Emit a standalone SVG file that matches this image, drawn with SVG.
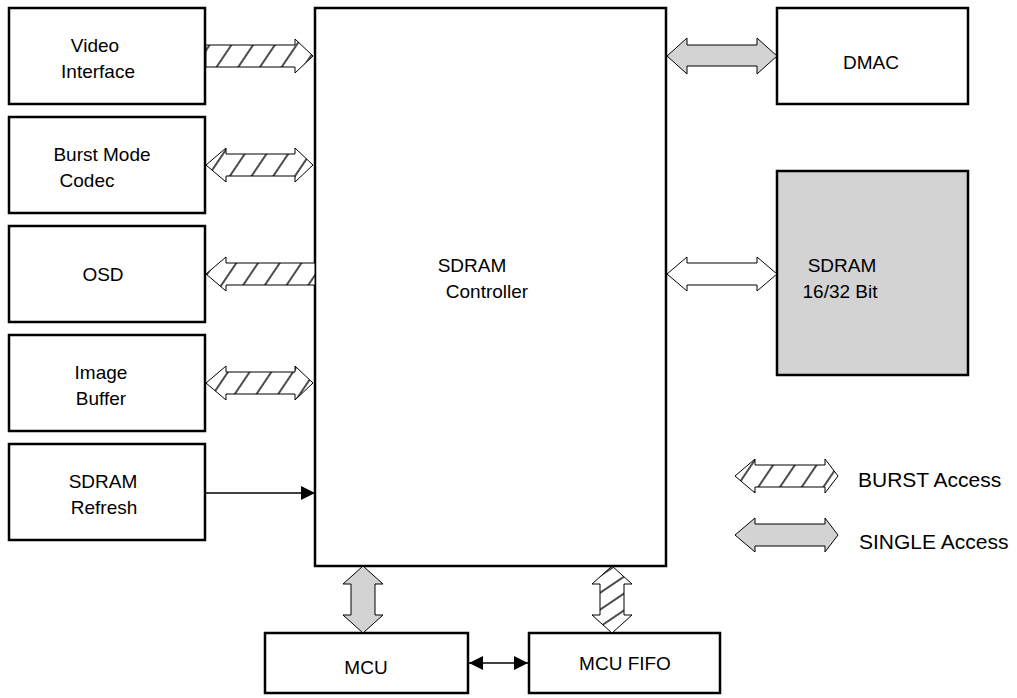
<svg xmlns="http://www.w3.org/2000/svg" width="1017" height="698" viewBox="0 0 1017 698">
<defs>
<pattern id="hatch" patternUnits="userSpaceOnUse" width="18" height="10" patternTransform="rotate(34)">
<rect width="18" height="10" fill="#fff"/>
<line x1="1" y1="-1" x2="1" y2="11" stroke="#000" stroke-width="1.4"/>
</pattern>
<pattern id="hatchv" patternUnits="userSpaceOnUse" width="14" height="10" patternTransform="rotate(56)">
<rect width="14" height="10" fill="#fff"/>
<line x1="1" y1="-1" x2="1" y2="11" stroke="#000" stroke-width="1.4"/>
</pattern>
<marker id="ah" viewBox="0 0 10 10" refX="10" refY="5" markerWidth="14" markerHeight="14" markerUnits="userSpaceOnUse" orient="auto-start-reverse">
<path d="M0,0 L10,5 L0,10 z" fill="#000"/>
</marker>
<style>
.box{fill:#fff;stroke:#000;stroke-width:2.5}
.gbox{fill:#d3d3d3;stroke:#000;stroke-width:2.5}
.t{font-family:"Liberation Sans",Arial,sans-serif;font-size:19px;fill:#000;text-anchor:middle;dominant-baseline:central}
.tl{font-family:"Liberation Sans",Arial,sans-serif;font-size:21px;fill:#000;dominant-baseline:central}
.ha{fill:url(#hatch);stroke:#000;stroke-width:1}
.hv{fill:url(#hatchv);stroke:#000;stroke-width:1}
.sa{fill:#d3d3d3;stroke:#000;stroke-width:1}
.wa{fill:#fff;stroke:#000;stroke-width:1}
.ln{stroke:#000;stroke-width:1.3;fill:none}
</style>
</defs>
<rect width="1017" height="698" fill="#fff"/>
<g id="video-interface"><rect class="box" x="9" y="8" width="196" height="96"/><text class="t" x="95" y="45">Video</text><text class="t" x="98" y="71">Interface</text></g>
<g id="burst-mode-codec"><rect class="box" x="9" y="117" width="196" height="96"/><text class="t" x="102" y="154">Burst Mode</text><text class="t" x="87" y="180">Codec</text></g>
<g id="osd"><rect class="box" x="9" y="226" width="196" height="96"/><text class="t" x="103" y="274">OSD</text></g>
<g id="image-buffer"><rect class="box" x="9" y="335" width="196" height="96"/><text class="t" x="101" y="372">Image</text><text class="t" x="101" y="398">Buffer</text></g>
<g id="sdram-refresh"><rect class="box" x="9" y="444" width="196" height="96"/><text class="t" x="103" y="481">SDRAM</text><text class="t" x="104" y="507">Refresh</text></g>
<g id="sdram-controller"><rect class="box" x="315" y="8" width="351" height="558"/><text class="t" x="472" y="265">SDRAM</text><text class="t" x="487" y="291">Controller</text></g>
<g id="dmac"><rect class="box" x="777" y="8" width="191" height="96"/><text class="t" x="871" y="62">DMAC</text></g>
<g id="sdram"><rect class="gbox" x="777" y="171" width="191" height="204"/><text class="t" x="842" y="265">SDRAM</text><text class="t" x="840" y="291">16/32 Bit</text></g>
<g id="mcu"><rect class="box" x="265" y="633" width="203" height="60"/><text class="t" x="366" y="667">MCU</text></g>
<g id="mcu-fifo"><rect class="box" x="529" y="633" width="191" height="60"/><text class="t" x="625" y="663">MCU FIFO</text></g>
<g id="connectors">
<polygon class="ha" points="206,45 295,45 295,39 313,56 295,73 295,67 206,67"/>
<polygon class="ha" points="206,165 226,148 226,154 295,154 295,148 313,165 295,182 295,176 226,176 226,182"/>
<polygon class="ha" points="206,274 226,257 226,263 315,263 315,285 226,285 226,291"/>
<polygon class="ha" points="206,383 226,366 226,372 295,372 295,366 313,383 295,400 295,394 226,394 226,400"/>
<line class="ln" x1="206" y1="493" x2="315" y2="493" marker-end="url(#ah)"/>
<polygon class="sa" points="667,56 687,38 687,45 757,45 757,38 777,56 757,74 757,66 687,66 687,74"/>
<polygon class="wa" points="667,274 687,257 687,263 757,263 757,257 777,274 757,291 757,285 687,285 687,291"/>
<polygon class="sa" points="363,566 383,584 375,584 375,615 383,615 363,633 343,615 351,615 351,584 343,584"/>
<polygon class="hv" points="612,566 632,584 624,584 624,615 632,615 612,633 592,615 600,615 600,584 592,584"/>
<line class="ln" x1="469" y1="663" x2="528" y2="663" marker-start="url(#ah)" marker-end="url(#ah)"/>
</g>
<g id="legend">
<polygon class="ha" points="735,476 755,459 755,465 825,465 825,459 838,476 825,493 825,487 755,487 755,493"/>
<text class="tl" x="858" y="479">BURST Access</text>
<polygon class="sa" points="735,535 755,518 755,524 825,524 825,518 838,535 825,552 825,546 755,546 755,552"/>
<text class="tl" x="859" y="541">SINGLE Access</text>
</g>
</svg>
